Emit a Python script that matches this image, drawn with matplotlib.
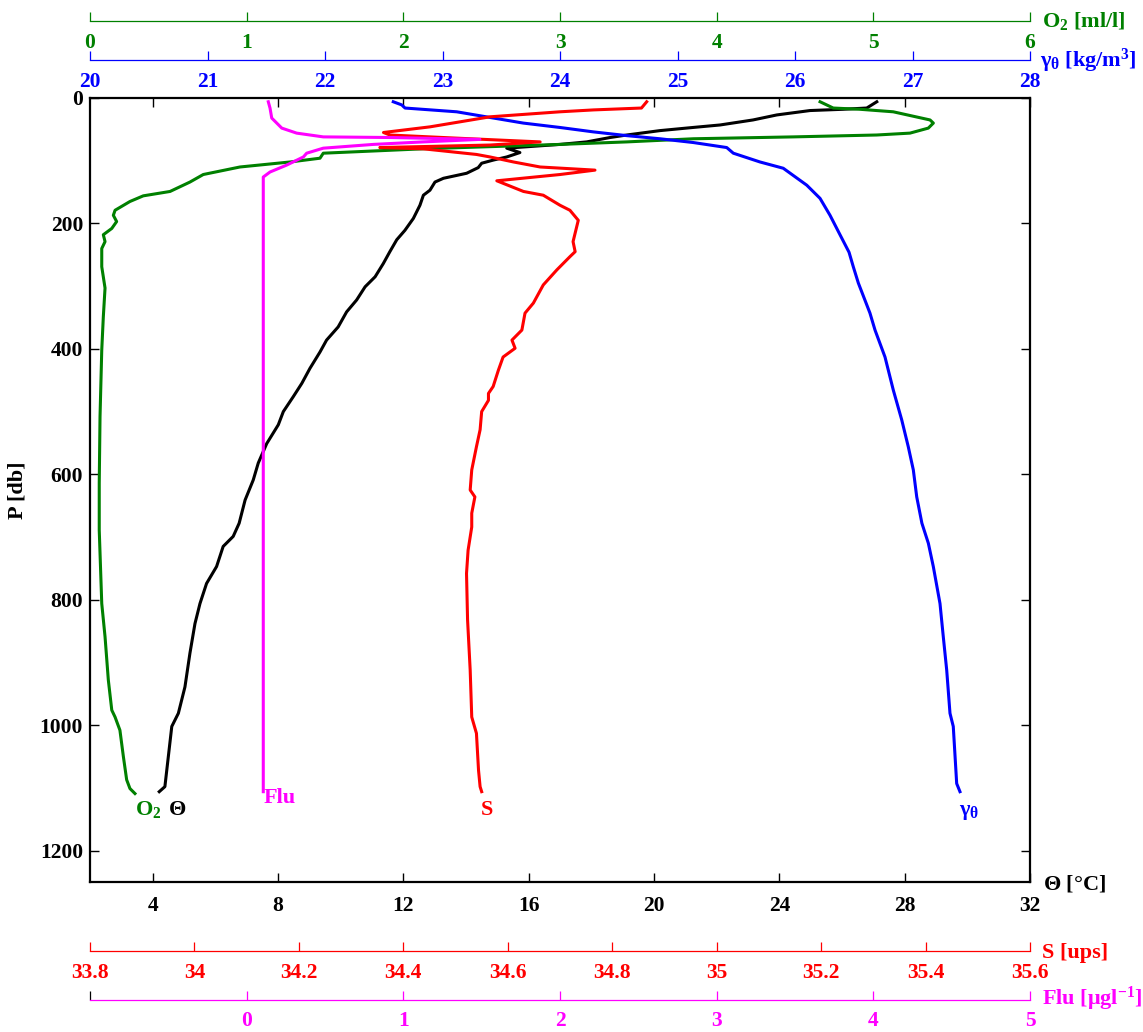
import numpy as np
import matplotlib
matplotlib.use('Agg')
import matplotlib.pyplot as plt
from matplotlib.ticker import FixedLocator

plt.rcParams.update({
    'font.family': 'Liberation Serif',
    'font.weight': 'bold',
    'font.size': 15.5,
    'mathtext.fontset': 'custom',
    'mathtext.rm': 'Liberation Serif:bold',
    'mathtext.bf': 'Liberation Serif:bold',
    'mathtext.it': 'Liberation Serif',
    'mathtext.sf': 'Liberation Serif',
})

# --- profiles (pressure in db) ---
theta_p = [6, 16, 18, 20, 27, 35, 43, 47, 52, 59, 63, 70, 74, 80, 87, 94, 99, 104, 111, 120,
           128, 134, 147, 155, 171, 192, 211, 226, 245, 264, 285, 301, 322, 341, 365, 386,
           405, 431, 455, 476, 500, 521, 551, 582, 609, 641, 678, 699, 715, 747, 774, 806,
           838, 885, 939, 981, 1002, 1050, 1098, 1106]
theta_v = [27.11, 26.79, 26.03, 24.98, 23.92, 23.16, 22.11, 21.24, 20.19, 19.13, 18.6, 17.85,
           17.0, 15.3, 15.72, 15.3, 14.87, 14.5, 14.39, 14.02, 13.28, 13.01, 12.85, 12.64,
           12.53, 12.32, 12.05, 11.79, 11.57, 11.36, 11.1, 10.78, 10.51, 10.19, 9.92, 9.55,
           9.34, 9.02, 8.76, 8.49, 8.17, 8.01, 7.64, 7.37, 7.21, 6.95, 6.76, 6.57, 6.25,
           6.04, 5.72, 5.51, 5.35, 5.19, 5.03, 4.82, 4.61, 4.5, 4.39, 4.21]

sal_p = [6, 16, 19, 22, 30, 46, 55, 59, 64, 70, 75, 79, 81, 90, 94, 102, 110, 115, 122, 132,
         149, 155, 171, 179, 195, 229, 245, 253, 274, 298, 327, 343, 370, 386, 399, 413, 434,
         460, 471, 482, 500, 529, 556, 593, 625, 636, 662, 684, 721, 758, 832, 912, 987,
         1013, 1072, 1098, 1106]
sal_v = [34.866, 34.856, 34.764, 34.700, 34.566, 34.451, 34.362, 34.374, 34.502, 34.662,
         34.566, 34.355, 34.438, 34.540, 34.566, 34.611, 34.662, 34.767, 34.700, 34.579,
         34.630, 34.668, 34.700, 34.719, 34.735, 34.725, 34.729, 34.719, 34.694, 34.668,
         34.649, 34.633, 34.627, 34.608, 34.614, 34.591, 34.582, 34.572, 34.563, 34.563,
         34.550, 34.547, 34.540, 34.531, 34.528, 34.537, 34.531, 34.531, 34.524, 34.521,
         34.523, 34.528, 34.531, 34.540, 34.544, 34.547, 34.550]

oxy_p = [6, 16, 18, 22, 35, 40, 48, 56, 59, 62, 65, 70, 74, 81, 88, 96, 102, 110, 122, 134,
         149, 156, 165, 179, 187, 197, 208, 218, 229, 240, 269, 303, 349, 402, 508, 614, 689,
         806, 859, 928, 976, 987, 1008, 1050, 1087, 1101, 1109]
oxy_v = [4.66, 4.744, 4.915, 5.127, 5.362, 5.383, 5.351, 5.234, 5.021, 4.489, 3.851, 3.426,
         3.0, 2.127, 1.489, 1.468, 1.277, 0.957, 0.723, 0.638, 0.511, 0.340, 0.255, 0.160,
         0.149, 0.170, 0.139, 0.085, 0.096, 0.075, 0.075, 0.096, 0.085, 0.075, 0.064, 0.059,
         0.059, 0.075, 0.096, 0.117, 0.139, 0.160, 0.191, 0.213, 0.234, 0.255, 0.287]

flu_p = [6, 16, 32, 48, 56, 62, 63, 66, 70, 74, 80, 88, 94, 107, 118, 126, 1106]
flu_v = [0.138, 0.149, 0.160, 0.224, 0.319, 0.489, 0.915, 1.489, 1.127, 0.808, 0.489, 0.383,
         0.362, 0.255, 0.149, 0.106, 0.106]

gam_p = [6, 11, 16, 22, 31, 40, 47, 54, 60, 65, 71, 79, 88, 102, 112, 139, 160, 187, 218, 246,
         269, 295, 343, 370, 413, 466, 513, 556, 593, 636, 678, 710, 747, 806, 859, 912, 981,
         1002, 1093, 1106]
gam_v = [22.581, 22.653, 22.681, 23.121, 23.404, 23.688, 24.0, 24.283, 24.568, 24.851,
         25.134, 25.419, 25.475, 25.702, 25.9, 26.1, 26.213, 26.298, 26.383, 26.46, 26.496,
         26.539, 26.638, 26.681, 26.766, 26.837, 26.908, 26.964, 27.007, 27.036, 27.08,
         27.135, 27.177, 27.234, 27.262, 27.291, 27.319, 27.347, 27.376, 27.404]

# axis ranges / ticks
theta_ticks = [4, 8, 12, 16, 20, 24, 28, 32]
p_ticks = [0, 200, 400, 600, 800, 1000, 1200]
oxy_ticks = [0, 1, 2, 3, 4, 5, 6]
gam_ticks = [20, 21, 22, 23, 24, 25, 26, 27, 28]
sal_ticks = [33.8, 34.0, 34.2, 34.4, 34.6, 34.8, 35.0, 35.2, 35.4, 35.6]
sal_labels = ['33.8', '34', '34.2', '34.4', '34.6', '34.8', '35', '35.2', '35.4', '35.6']
flu_ticks = [0, 1, 2, 3, 4, 5]

GREEN = '#008000'

fig = plt.figure(figsize=(11.43, 10.32), dpi=100)
ax = fig.add_axes([0.07874, 0.14535, 0.8224, 0.75969])


def aux_axis(pos, lim, ticks, color, labels=None):
    a = ax.twiny()
    a.set_xlim(*lim)
    for s in a.spines.values():
        s.set_visible(False)
    a.spines['bottom'].set_visible(True)
    a.spines['bottom'].set_position(('axes', pos))
    a.spines['bottom'].set_color(color)
    a.spines['bottom'].set_linewidth(0.9)
    a.xaxis.set_ticks_position('bottom')
    a.set_xticks(ticks)
    if labels is not None:
        a.set_xticklabels(labels)
    a.tick_params(axis='x', direction='in', length=6.5, width=0.9, color=color,
                  labelcolor=color, pad=8.5)
    a.patch.set_visible(False)
    return a


ax_o = aux_axis(1.098, (0, 6), oxy_ticks, GREEN)
ax_g = aux_axis(1.048, (20, 28), gam_ticks, 'blue')
ax_s = aux_axis(-0.088, (33.8, 35.6), sal_ticks, 'red', sal_labels)
ax_f = aux_axis(-0.150, (-1, 5), flu_ticks, 'magenta')
ax_f.xaxis.set_minor_locator(FixedLocator([-1]))
ax_f.tick_params(axis='x', which='minor', direction='in', length=6.5, width=0.9, color='black')

# main axes (set after twins, since twiny resets tick positions)
ax.set_xlim(2, 32)
ax.set_ylim(1250, 0)
ax.set_xticks(theta_ticks)
ax.set_yticks(p_ticks)
ax.tick_params(axis='both', direction='in', length=6.5, width=1.0, top=True, right=True,
               labeltop=False, labelright=False)
ax.tick_params(axis='x', pad=10)
ax.tick_params(axis='y', pad=5)
for s in ax.spines.values():
    s.set_linewidth(1.6)

lw = 2.2
ax_s.plot(sal_v, sal_p, color='red', lw=lw)
ax_f.plot(flu_v, flu_p, color='magenta', lw=lw)
ax.plot(theta_v, theta_p, color='black', lw=lw)
ax_g.plot(gam_v, gam_p, color='blue', lw=lw)
ax_o.plot(oxy_v, oxy_p, color=GREEN, lw=lw)

# curve labels (Θ / P coordinates)
ax.text(3.44, 1143, 'O$_2$', color=GREEN, fontsize=16, va='baseline')
ax.text(4.49, 1143, r'$\mathsf{\Theta}$', color='black', fontsize=16, va='baseline')
ax.text(7.55, 1124, 'Flu', color='magenta', fontsize=16, va='baseline')
ax.text(14.48, 1143, 'S', color='red', fontsize=16, va='baseline')
ax.text(29.72, 1143, r'$\gamma_\theta$', color='blue', fontsize=16, va='baseline')

# axis titles
fig.text(0.9116, 0.9738, 'O$_2$ [ml/l]', color=GREEN, fontsize=16, va='baseline')
fig.text(0.9099, 0.9354, r'$\gamma_\theta$ [kg/m$^3$]', color='blue', fontsize=16, va='baseline')
fig.text(0.9125, 0.1376, r'$\mathsf{\Theta}$ [°C]', color='black', fontsize=16, va='baseline')
fig.text(0.9116, 0.0717, 'S [ups]', color='red', fontsize=16, va='baseline')
fig.text(0.9116, 0.0262, r'Flu [$\mu$gl$^{-1}$]', color='magenta', fontsize=16, va='baseline')
fig.text(0.0157, 0.525, 'P [db]', rotation=90, fontsize=16, ha='center', va='center')

fig.savefig('out.png', dpi=100)
